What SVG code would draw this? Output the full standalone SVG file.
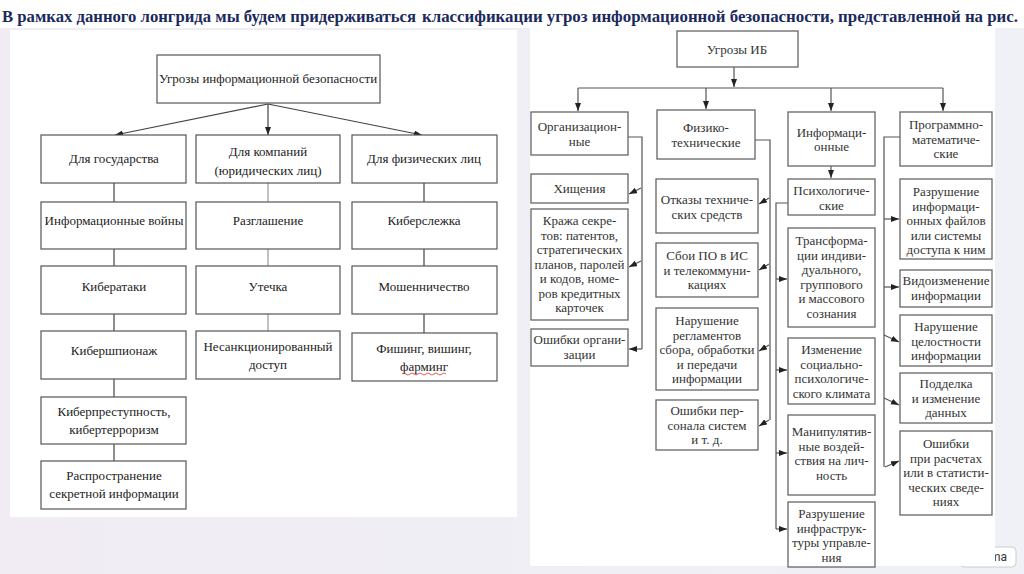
<svg xmlns="http://www.w3.org/2000/svg" width="1024" height="574" viewBox="0 0 1024 574">
<defs>
<linearGradient id="bg" x1="0" y1="0" x2="1" y2="0">
<stop offset="0" stop-color="#f1ecf4"/><stop offset="1" stop-color="#eff1f6"/>
</linearGradient>
<marker id="ah" markerWidth="9" markerHeight="7" refX="8" refY="3" orient="auto" markerUnits="userSpaceOnUse">
<path d="M0,0 L8,3 L0,6 z" fill="#222"/>
</marker>
<style>
.lb{fill:#fff;stroke:#555;stroke-width:1.2}
.lt{font-family:'Liberation Serif','Times New Roman','DejaVu Serif',serif;font-size:13px;fill:#222;text-anchor:middle}
.rb{fill:#fff;stroke:#666;stroke-width:1.3}
.rt{font-family:'Liberation Serif','Times New Roman','DejaVu Serif',serif;font-size:13px;fill:#333;text-anchor:middle}
.ttl{font-family:'Liberation Serif','Times New Roman','DejaVu Serif',serif;font-weight:bold;font-size:17px;fill:#1b2a5c}
.lc{stroke:#444;stroke-width:1.2;fill:none}
.lc2{stroke:#999;stroke-width:1.2;fill:none}
.rc{stroke:#555;stroke-width:1.2;fill:none}
.ar{marker-end:url(#ah)}
</style>
</defs>
<rect width="1024" height="574" fill="url(#bg)"/>
<rect width="1024" height="28" fill="#fff"/>
<g id="title">
<text class="ttl" x="2" y="22" textLength="414" lengthAdjust="spacingAndGlyphs">В рамках данного лонгрида мы будем придерживаться</text>
<text class="ttl" x="422" y="22" textLength="596" lengthAdjust="spacingAndGlyphs">классификации угроз информационной безопасности, представленной на рис.</text>
</g>
<g id="badge"><rect x="960" y="547" width="56" height="20" rx="4" fill="#fff" stroke="#ccc"/><text x="990" y="561" font-family="Roboto, sans-serif" font-size="12" fill="#333">ma</text></g>
<rect x="10" y="30" width="507" height="487" fill="#fff"/>
<rect x="530" y="28" width="465" height="538" fill="#fff"/>

<g id="connectors">
<line class="lc ar" x1="268" y1="104" x2="115" y2="135"/>
<line class="lc ar" x1="268" y1="104" x2="268" y2="135"/>
<line class="lc ar" x1="268" y1="104" x2="422" y2="135"/>
<path class="lc" d="M114,183 V202 M114,249 V266 M114,314 V331 M114,379 V397 M114,444 V461"/>
<path class="lc2" d="M268,183 V202 M268,249 V266 M268,314 V331"/>
<path class="lc" d="M424,183 V202 M424,249 V266 M424,314 V333"/>

<line class="rc ar" x1="734" y1="67" x2="734" y2="87"/>
<line class="rc" x1="578" y1="88" x2="943" y2="88"/>
<line class="rc ar" x1="578" y1="88" x2="578" y2="111"/>
<line class="rc ar" x1="706" y1="88" x2="706" y2="109"/>
<line class="rc ar" x1="831" y1="88" x2="831" y2="111"/>
<line class="rc ar" x1="943" y1="88" x2="943" y2="111"/>
<path class="rc" d="M628,137 H642 V349"/>
<line class="rc ar" x1="641" y1="188" x2="629" y2="194"/>
<line class="rc ar" x1="641" y1="261" x2="629" y2="267"/>
<line class="rc ar" x1="642" y1="349" x2="629" y2="349"/>
<path class="rc" d="M755,140 H770 V420"/>
<line class="rc ar" x1="769" y1="198" x2="759" y2="204"/>
<line class="rc ar" x1="769" y1="264" x2="759" y2="270"/>
<line class="rc ar" x1="769" y1="345" x2="759" y2="351"/>
<line class="rc ar" x1="769" y1="420" x2="759" y2="426"/>
<line class="rc ar" x1="831" y1="166" x2="831" y2="178"/>
<path class="rc" d="M788,203 H776 V529"/>
<line class="rc ar" x1="776" y1="279" x2="787" y2="279"/>
<line class="rc ar" x1="776" y1="370" x2="787" y2="370"/>
<line class="rc ar" x1="776" y1="453" x2="787" y2="453"/>
<line class="rc ar" x1="776" y1="529" x2="787" y2="529"/>
<path class="rc" d="M900,137 H884 V467"/>
<line class="rc ar" x1="884" y1="219" x2="899" y2="219"/>
<line class="rc ar" x1="884" y1="287" x2="899" y2="287"/>
<line class="rc ar" x1="884" y1="335" x2="899" y2="342"/>
<line class="rc ar" x1="884" y1="398" x2="899" y2="405"/>
<line class="rc ar" x1="885" y1="467" x2="899" y2="461"/>
</g>

<g id="l-root"><rect class="lb" x="157" y="55" width="223" height="48"/><text class="lt" x="268" y="83">Угрозы информационной безопасности</text></g>
<g id="l-gov"><rect class="lb" x="41" y="135" width="145" height="48"/><text class="lt" x="114" y="163">Для государства</text></g>
<g id="l-comp"><rect class="lb" x="196" y="135" width="144" height="48"/><text class="lt" x="268" y="156">Для компаний</text><text class="lt" x="268" y="175">(юридических лиц)</text></g>
<g id="l-pers"><rect class="lb" x="352" y="135" width="145" height="48"/><text class="lt" x="424" y="163">Для физических лиц</text></g>
<g id="l-g1"><rect class="lb" x="41" y="202" width="145" height="47"/><text class="lt" x="114" y="225">Информационные войны</text></g>
<g id="l-g2"><rect class="lb" x="41" y="266" width="145" height="48"/><text class="lt" x="114" y="291">Кибератаки</text></g>
<g id="l-g3"><rect class="lb" x="41" y="331" width="145" height="48"/><text class="lt" x="114" y="355">Кибершпионаж</text></g>
<g id="l-g4"><rect class="lb" x="41" y="397" width="145" height="47"/><text class="lt" x="114" y="416">Киберпреступность,</text><text class="lt" x="114" y="434">кибертерроризм</text></g>
<g id="l-g5"><rect class="lb" x="41" y="461" width="145" height="48"/><text class="lt" x="114" y="480">Распространение</text><text class="lt" x="114" y="498">секретной информации</text></g>
<g id="l-c1"><rect class="lb" x="196" y="202" width="144" height="47"/><text class="lt" x="268" y="225">Разглашение</text></g>
<g id="l-c2"><rect class="lb" x="196" y="266" width="144" height="48"/><text class="lt" x="268" y="291">Утечка</text></g>
<g id="l-c3"><rect class="lb" x="196" y="331" width="144" height="48"/><text class="lt" x="268" y="351">Несанкционированный</text><text class="lt" x="268" y="369">доступ</text></g>
<g id="l-p1"><rect class="lb" x="352" y="202" width="145" height="47"/><text class="lt" x="424" y="225">Киберслежка</text></g>
<g id="l-p2"><rect class="lb" x="352" y="266" width="145" height="48"/><text class="lt" x="424" y="291">Мошенничество</text></g>
<g id="l-p3"><rect class="lb" x="352" y="333" width="145" height="48"/><text class="lt" x="424" y="353">Фишинг, вишинг,</text><text class="lt" x="424" y="371">фарминг</text><path d="M402,374 q2,-2 4,0 t4,0 t4,0 t4,0 t4,0 t4,0 t4,0 t4,0 t4,0 t4,0 t4,0" fill="none" stroke="#d33" stroke-width="0.8"/></g>

<g id="r-root"><rect class="rb" x="677" y="31" width="121" height="36"/><text class="rt" x="737" y="53.5">Угрозы ИБ</text></g>
<g id="r-org"><rect class="rb" x="531" y="112" width="97" height="43"/><text class="rt" x="579.5"><tspan x="579.5" y="131">Организацион-</tspan><tspan x="579.5" y="145.5">ные</tspan></text></g>
<g id="r-phys"><rect class="rb" x="657" y="110" width="98" height="49"/><text class="rt"><tspan x="706" y="132">Физико-</tspan><tspan x="706" y="146.5">технические</tspan></text></g>
<g id="r-info"><rect class="rb" x="788" y="112" width="87" height="54"/><text class="rt"><tspan x="831.5" y="136.5">Информаци-</tspan><tspan x="831.5" y="151">онные</tspan></text></g>
<g id="r-prog"><rect class="rb" x="900" y="112" width="92" height="54"/><text class="rt"><tspan x="946" y="129">Программно-</tspan><tspan x="946" y="143.5">математиче-</tspan><tspan x="946" y="158">ские</tspan></text></g>

<g id="r-o1"><rect class="rb" x="531" y="174" width="97" height="29"/><text class="rt" x="579.5" y="193">Хищения</text></g>
<g id="r-o2"><rect class="rb" x="531" y="209" width="97" height="111"/><text class="rt"><tspan x="579.5" y="225">Кража секре-</tspan><tspan x="579.5" y="239.5">тов: патентов,</tspan><tspan x="579.5" y="254">стратегических</tspan><tspan x="579.5" y="268.5">планов, паролей</tspan><tspan x="579.5" y="283">и кодов, номе-</tspan><tspan x="579.5" y="297.5">ров кредитных</tspan><tspan x="579.5" y="312">карточек</tspan></text></g>
<g id="r-o3"><rect class="rb" x="531" y="329" width="97" height="37"/><text class="rt"><tspan x="579.5" y="344">Ошибки органи-</tspan><tspan x="579.5" y="358.5">зации</tspan></text></g>

<g id="r-f1"><rect class="rb" x="656" y="179" width="102" height="54"/><text class="rt"><tspan x="707" y="204">Отказы техниче-</tspan><tspan x="707" y="218.5">ских средств</tspan></text></g>
<g id="r-f2"><rect class="rb" x="656" y="243" width="102" height="54"/><text class="rt"><tspan x="707" y="260">Сбои ПО в ИС</tspan><tspan x="707" y="274.5">и телекоммуни-</tspan><tspan x="707" y="289">кациях</tspan></text></g>
<g id="r-f3"><rect class="rb" x="656" y="308" width="102" height="82"/><text class="rt"><tspan x="707" y="325">Нарушение</tspan><tspan x="707" y="339.5">регламентов</tspan><tspan x="707" y="354">сбора, обработки</tspan><tspan x="707" y="368.5">и передачи</tspan><tspan x="707" y="383">информации</tspan></text></g>
<g id="r-f4"><rect class="rb" x="656" y="400" width="102" height="50"/><text class="rt"><tspan x="707" y="415">Ошибки пер-</tspan><tspan x="707" y="429.5">сонала систем</tspan><tspan x="707" y="444">и т. д.</tspan></text></g>

<g id="r-i1"><rect class="rb" x="788" y="179" width="87" height="36"/><text class="rt"><tspan x="831.5" y="195">Психологиче-</tspan><tspan x="831.5" y="209.5">ские</tspan></text></g>
<g id="r-i2"><rect class="rb" x="788" y="228" width="87" height="99"/><text class="rt"><tspan x="831.5" y="245">Трансформа-</tspan><tspan x="831.5" y="259.5">ции индиви-</tspan><tspan x="831.5" y="274">дуального,</tspan><tspan x="831.5" y="288.5">группового</tspan><tspan x="831.5" y="303">и массового</tspan><tspan x="831.5" y="317.5">сознания</tspan></text></g>
<g id="r-i3"><rect class="rb" x="788" y="338" width="87" height="66"/><text class="rt"><tspan x="831.5" y="354">Изменение</tspan><tspan x="831.5" y="368.5">социально-</tspan><tspan x="831.5" y="383">психологиче-</tspan><tspan x="831.5" y="397.5">ского климата</tspan></text></g>
<g id="r-i4"><rect class="rb" x="788" y="415" width="87" height="80"/><text class="rt"><tspan x="831.5" y="436">Манипулятив-</tspan><tspan x="831.5" y="450.5">ные воздей-</tspan><tspan x="831.5" y="465">ствия на лич-</tspan><tspan x="831.5" y="479.5">ность</tspan></text></g>
<g id="r-i5"><rect class="rb" x="788" y="502" width="87" height="65"/><text class="rt"><tspan x="831.5" y="518">Разрушение</tspan><tspan x="831.5" y="532.5">инфраструк-</tspan><tspan x="831.5" y="547">туры управле-</tspan><tspan x="831.5" y="561.5">ния</tspan></text></g>

<g id="r-p1"><rect class="rb" x="900" y="179" width="92" height="80"/><text class="rt"><tspan x="946" y="196">Разрушение</tspan><tspan x="946" y="210.5">информаци-</tspan><tspan x="946" y="225">онных файлов</tspan><tspan x="946" y="239.5">или системы</tspan><tspan x="946" y="254">доступа к ним</tspan></text></g>
<g id="r-p2"><rect class="rb" x="900" y="270" width="92" height="37"/><text class="rt"><tspan x="946" y="285">Видоизменение</tspan><tspan x="946" y="299.5">информации</tspan></text></g>
<g id="r-p3"><rect class="rb" x="900" y="315" width="92" height="51"/><text class="rt"><tspan x="946" y="331">Нарушение</tspan><tspan x="946" y="345.5">целостности</tspan><tspan x="946" y="360">информации</tspan></text></g>
<g id="r-p4"><rect class="rb" x="900" y="373" width="92" height="50"/><text class="rt"><tspan x="946" y="388">Подделка</tspan><tspan x="946" y="402.5">и изменение</tspan><tspan x="946" y="417">данных</tspan></text></g>
<g id="r-p5"><rect class="rb" x="900" y="431" width="92" height="84"/><text class="rt"><tspan x="946" y="448">Ошибки</tspan><tspan x="946" y="462.5">при расчетах</tspan><tspan x="946" y="477">или в статисти-</tspan><tspan x="946" y="491.5">ческих сведе-</tspan><tspan x="946" y="506">ниях</tspan></text></g>
</svg>
